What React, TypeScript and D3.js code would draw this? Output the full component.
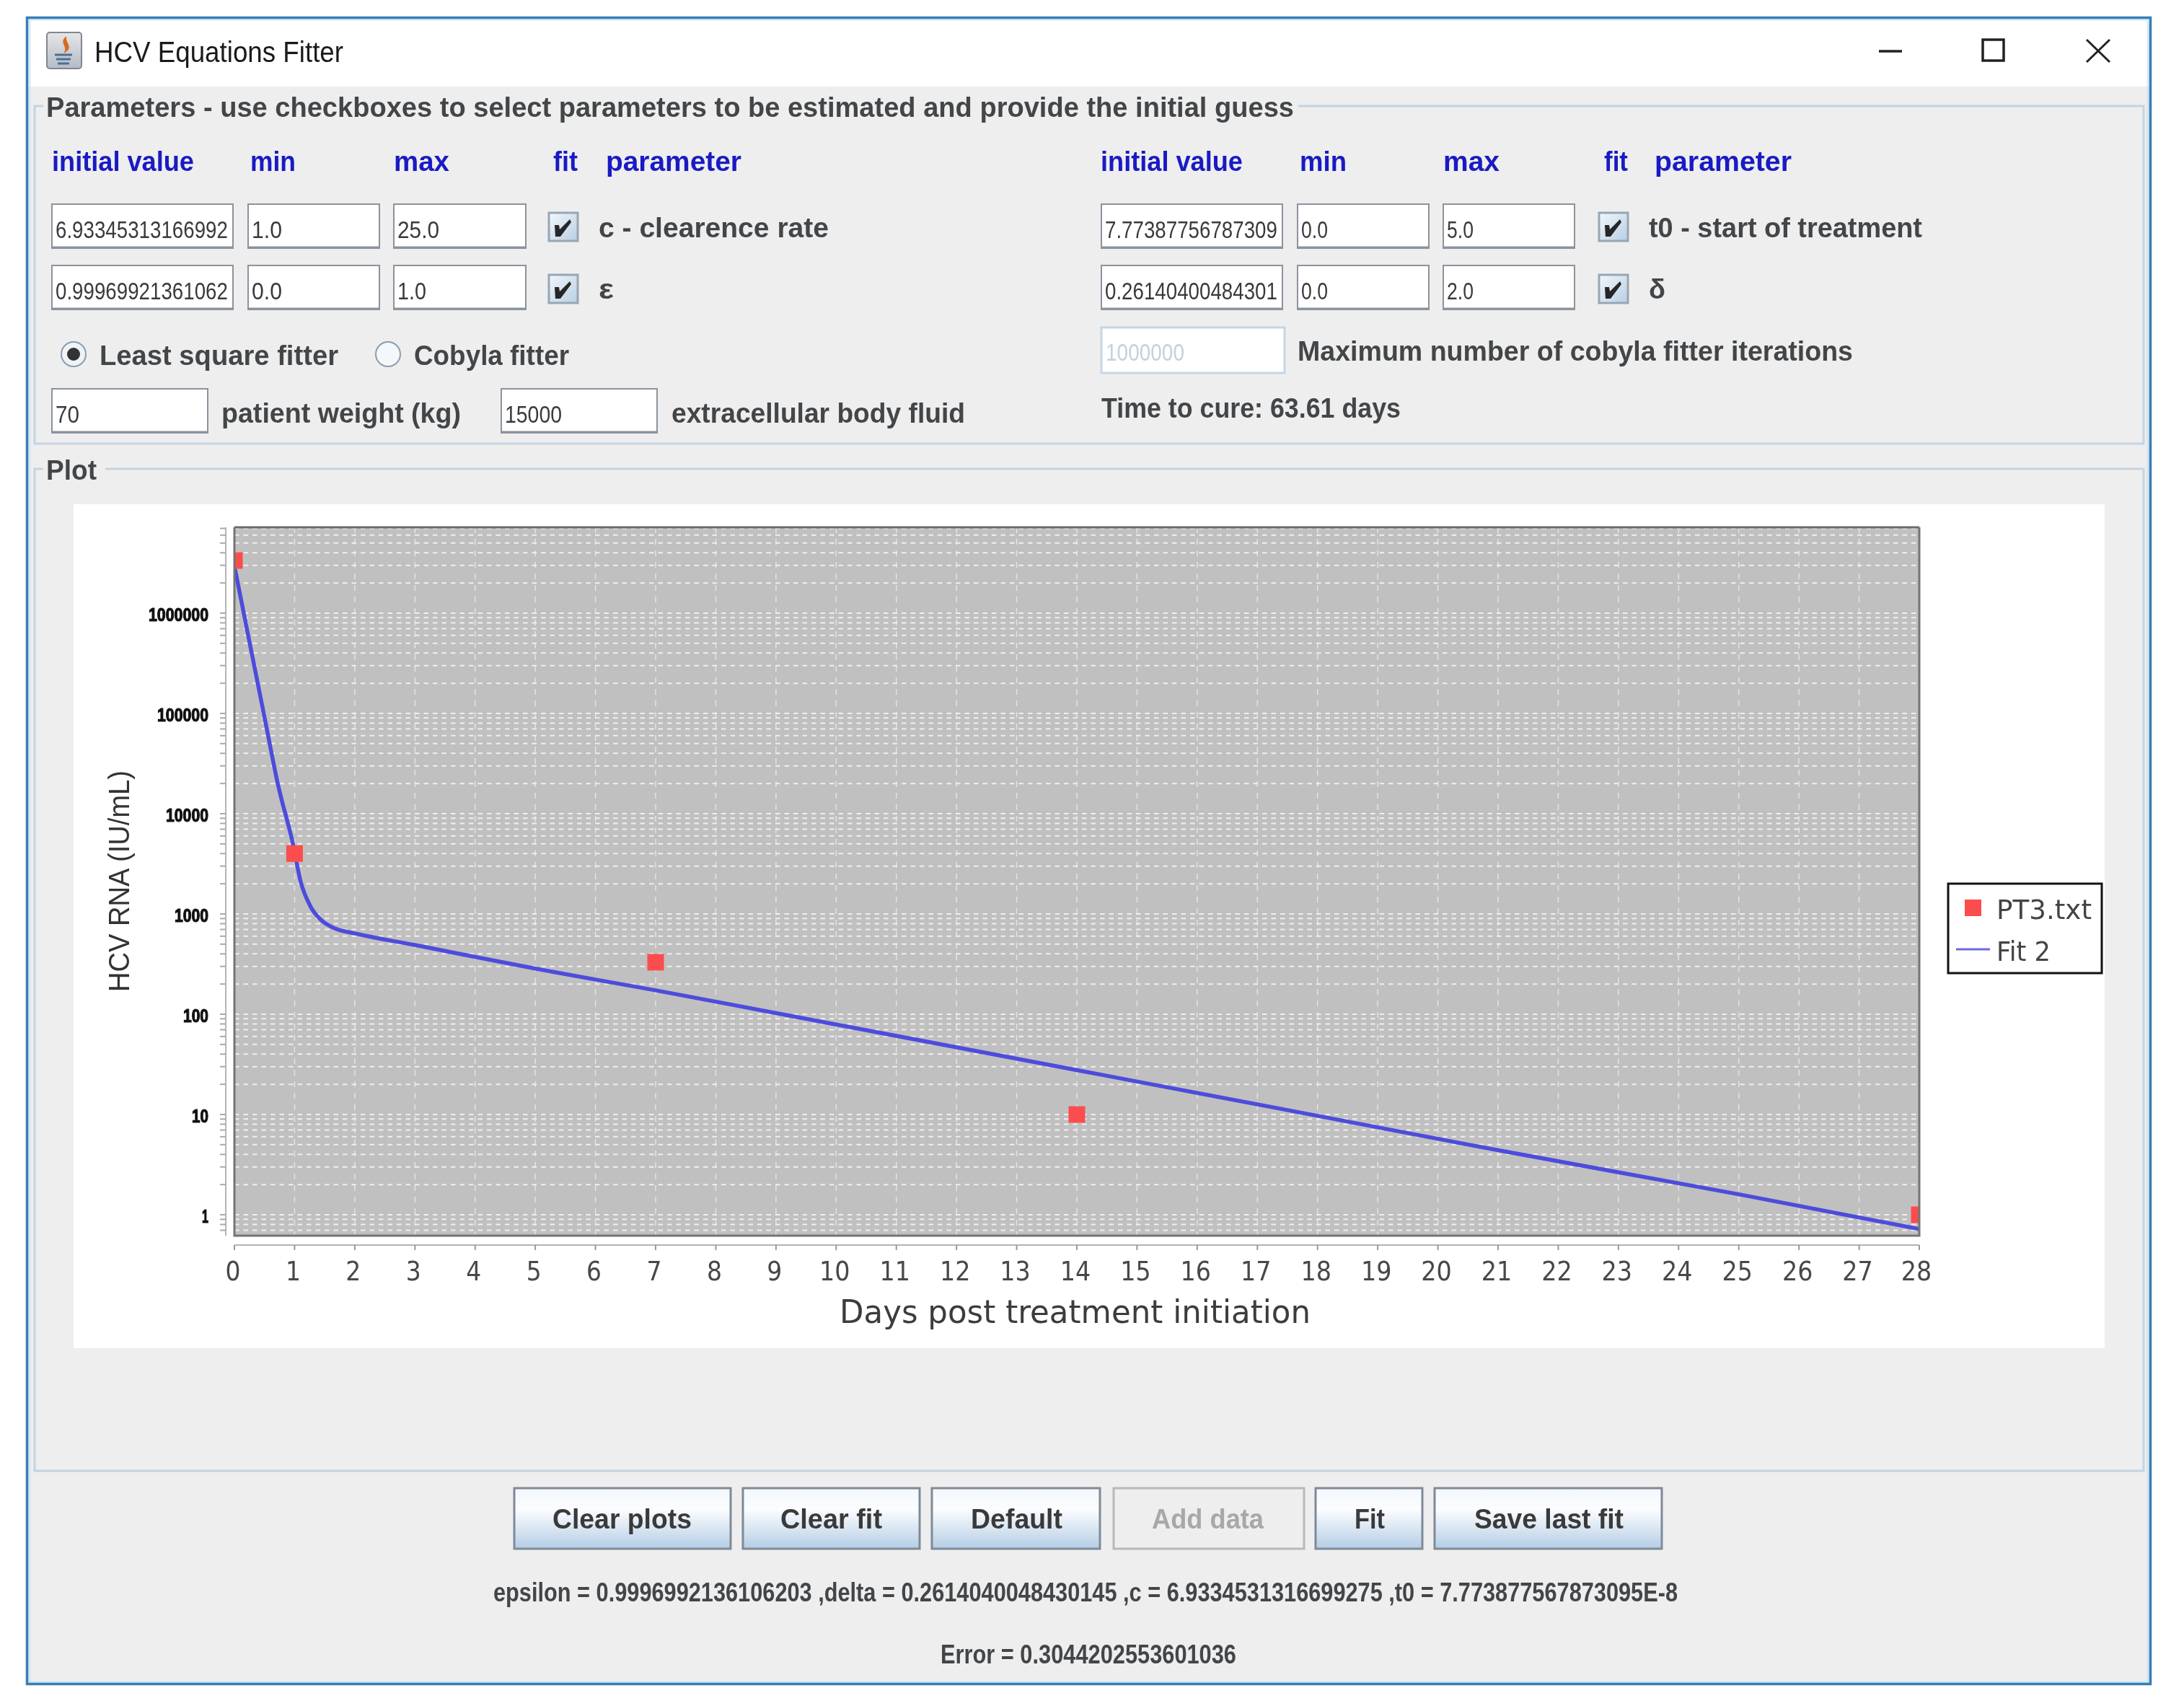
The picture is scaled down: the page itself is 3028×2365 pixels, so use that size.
import React from "react";
import * as d3 from "d3";

// ---- chart data ----
const dataDays = [0, 1, 7, 14, 28];
const dataValues = [3350000, 4000, 330, 10, 1];
const fitDays = [0, 0.25, 0.49, 0.73, 0.97, 1.1, 1.26, 1.45, 1.67, 2, 3, 5, 7, 10, 14, 18, 21, 25, 28];
const fitValues = [2940000, 518000, 98400, 18800, 5070, 2110, 1200, 860, 718, 640, 490, 285, 173, 79, 27.7, 9.7, 4.4, 1.6, 0.72];
const xTicks = d3.range(0, 29);
const yMajor = [1, 10, 100, 1000, 10000, 100000, 1000000];
const yMinorMult = [2, 3, 4, 5, 6, 7, 8, 9];
const legendLabels = ["PT3.txt", "Fit 2"];
const xTitle = "Days post treatment initiation";
const yTitle = "HCV RNA (IU/mL)";
const row1Values = ["6.93345313166992", "1.0", "25.0", "7.77387756787309", "0.0", "5.0"];
const row2Values = ["0.99969921361062", "0.0", "1.0", "0.26140400484301", "0.0", "2.0"];
const headers = ["initial value", "min", "max", "fit", "parameter"];

const SANS = "'Liberation Sans', Arial, sans-serif";
const DEJA = "'DejaVu Sans', sans-serif";
const UI = "#434649";
const BLUE = "#1a1ac4";
const BORDER = "#c3d3e2";

function T({ a, b, y, s = 36, w = 700, c = UI, f = SANS, st, children }: any) {
  return (
    <text x={a} y={y} fontSize={s} fontWeight={w} fill={c} fontFamily={f}
      stroke={st ? c : undefined} strokeWidth={st}
      textLength={b - a} lengthAdjust="spacingAndGlyphs">{children}</text>
  );
}

function Input({ a, b, t, h, text, id, tb, c = "#3a3a3a", stroke = "#8b939d" }: any) {
  return (
    <g>
      <rect x={a} y={t} width={b - a} height={h - t} fill="#fff" stroke={stroke} strokeWidth={2} />
      <line x1={a} x2={b} y1={h - 1} y2={h - 1} stroke={stroke} strokeWidth={3} />
      <clipPath id={id}><rect x={a} y={t} width={b - a} height={h - t} /></clipPath>
      <g clipPath={`url(#${id})`}>
        {text.length > 8 ? (
          <text transform={`translate(${a + 5},${h - 14}) scale(0.84,1)`} fontFamily={SANS} fontSize={33} fill={c}>{text}</text>
        ) : (
          <T a={a + 5} b={tb} y={h - 14} s={33} w={400} c={c}>{text}</T>
        )}
      </g>
    </g>
  );
}

function Check({ x, y }: any) {
  const pts = [[8, 17], [14, 17], [15, 23], [29, 9], [31, 13], [16, 33], [9, 33]]
    .map((p) => `${x + p[0]},${y + p[1]}`).join(" ");
  return (
    <g>
      <rect x={x} y={y} width={40} height={39} fill="url(#chk)" stroke="#98a6b4" strokeWidth={3} />
      <polygon points={pts} fill="#262626" />
    </g>
  );
}

function Btn({ a, b, ta, tb, label, off }: any) {
  return (
    <g>
      <rect x={a} y={2063} width={b - a} height={84} fill={off ? "#eeeeee" : "url(#btn)"}
        stroke={off ? "#b8b8b8" : "#7e8a98"} strokeWidth={3} />
      <T a={ta} b={tb} y={2119} s={39} c={off ? "#a8a8a8" : "#3a3a3a"}>{label}</T>
    </g>
  );
}

export default function App() {
  const L = 325, R = 2661, TOP = 731, BOT = 1713;
  const x = d3.scaleLinear().domain([0, 28]).range([L, R]);
  const y = d3.scaleLog().domain([1, 1000000]).range([1684, 850]);
  const minors: number[] = [];
  [0.1, ...yMajor].forEach((d) => yMinorMult.forEach((m) => {
    const v = d * m;
    if (y(v) > TOP && y(v) < BOT) minors.push(v);
  }));
  const line = d3.line<number>().x((d) => x(d)).y((_, i) => y(fitValues[i])).curve(d3.curveMonotoneX);
  const colR1 = [[72, 323, 323], [344, 526, 391], [546, 729, 609], [1527, 1778, 1778], [1799, 1981, 1841], [2001, 2183, 2043]];
  const colR2 = [[72, 323, 323], [344, 526, 391], [546, 729, 591], [1527, 1778, 1778], [1799, 1981, 1841], [2001, 2183, 2043]];
  const hdrL = [[72, 269], [347, 410], [546, 623], [767, 801], [840, 1028]];
  const hdrR = [[1526, 1723], [1802, 1867], [2001, 2079], [2224, 2257], [2294, 2484]];

  return (
    <svg width={3028} height={2365} viewBox="0 0 3028 2365"
      style={{ position: "absolute", left: 0, top: 0, background: "#fff", filter: "blur(0.7px)" }}>
      <defs>
        <linearGradient id="btn" x1="0" x2="0" y1="0" y2="1">
          <stop offset="0" stopColor="#f4f8fc" /><stop offset="0.35" stopColor="#fbfdff" /><stop offset="1" stopColor="#b5cde4" />
        </linearGradient>
        <linearGradient id="chk" x1="0" x2="1" y1="0" y2="1">
          <stop offset="0" stopColor="#f2f7fb" /><stop offset="1" stopColor="#b8cfe3" />
        </linearGradient>
        <linearGradient id="ico" x1="0" x2="0" y1="0" y2="1">
          <stop offset="0" stopColor="#e6e6e6" /><stop offset="1" stopColor="#b4bcc6" />
        </linearGradient>
        <clipPath id="plot"><rect x={L} y={TOP} width={R - L} height={BOT - TOP} /></clipPath>
      </defs>

      {/* window */}
      <rect x={38} y={25} width={2943} height={2309} fill="#eeeeee" />
      <rect x={38} y={25} width={2943} height={95} fill="#ffffff" />
      <rect x={41} y={27} width={2937} height={2305} fill="none" stroke="#bfe3f3" strokeWidth={3} strokeOpacity={0.7} />
      <rect x={37.5} y={24.5} width={2944} height={2310} fill="none" stroke="#3a7db5" strokeWidth={3.5} />

      {/* title bar */}
      <rect x={65} y={45} width={48} height={50} rx={4} fill="url(#ico)" stroke="#7f8790" strokeWidth={2} />
      <path d="M92 50 C80 60 96 64 88 74 C104 66 90 60 92 50 Z" fill="#d8691e" />
      <path d="M76 76 H100 M78 82 H98 M80 88 H96" stroke="#4c6f96" strokeWidth={3} />
      <T a={131} b={476} y={86} s={40} w={400} c="#1a1a1a">HCV Equations Fitter</T>
      <line x1={2605} x2={2637} y1={71} y2={71} stroke="#222" strokeWidth={3.5} />
      <rect x={2749} y={55} width={29} height={29} fill="none" stroke="#222" strokeWidth={3.5} />
      <path d="M2893 55 L2925 86 M2925 55 L2893 86" stroke="#222" strokeWidth={3} />

      {/* parameters group */}
      <path d="M1800 147 H2972 V615 H48 V147 H60" fill="none" stroke={BORDER} strokeWidth={3} />
      <T a={64} b={1794} y={162} s={38}>Parameters - use checkboxes to select parameters to be estimated and provide the initial guess</T>
      {headers.map((h, i) => (
        <g key={h}>
          <T a={hdrL[i][0]} b={hdrL[i][1]} y={237} s={38} c={BLUE}>{h}</T>
          <T a={hdrR[i][0]} b={hdrR[i][1]} y={237} s={38} c={BLUE}>{h}</T>
        </g>
      ))}
      {row1Values.map((v, i) => (
        <Input key={"a" + i} id={"a" + i} a={colR1[i][0]} b={colR1[i][1]} tb={colR1[i][2]} t={283} h={344} text={v} />
      ))}
      {row2Values.map((v, i) => (
        <Input key={"b" + i} id={"b" + i} a={colR2[i][0]} b={colR2[i][1]} tb={colR2[i][2]} t={368} h={429} text={v} />
      ))}
      <Check x={761} y={295} />
      <Check x={761} y={381} />
      <Check x={2217} y={295} />
      <Check x={2217} y={381} />
      <T a={830} b={1149} y={329} s={38}>c - clearence rate</T>
      <T a={830} b={851} y={414} s={38}>ε</T>
      <T a={2286} b={2665} y={329} s={38}>t0 - start of treatment</T>
      <T a={2286} b={2309} y={414} s={38}>δ</T>

      <circle cx={102} cy={491} r={17} fill="#eef3f8" stroke="#8b9db0" strokeWidth={2} />
      <circle cx={102} cy={491} r={9} fill="#333" />
      <T a={138} b={469} y={506} s={38}>Least square fitter</T>
      <circle cx={538} cy={491} r={17} fill="#f4f8fb" stroke="#8b9db0" strokeWidth={2} />
      <T a={574} b={789} y={506} s={38}>Cobyla fitter</T>

      <Input id="w" a={72} b={288} t={539} h={600} tb={110} text="70" />
      <T a={307} b={639} y={586} s={38}>patient weight (kg)</T>
      <Input id="v" a={695} b={911} t={539} h={600} tb={779} text="15000" />
      <T a={931} b={1338} y={586} s={38}>extracellular body fluid</T>

      <rect x={1527} y={454} width={254} height={63} fill="#fff" stroke="#c6d5e4" strokeWidth={3} />
      <T a={1533} b={1642} y={500} s={33} w={400} c="#c4d0de">1000000</T>
      <T a={1799} b={2569} y={500} s={38}>Maximum number of cobyla fitter iterations</T>
      <T a={1527} b={1942} y={579} s={38}>Time to cure: 63.61 days</T>

      {/* plot group */}
      <path d="M146 650 H2972 V2039 H48 V650 H60" fill="none" stroke={BORDER} strokeWidth={3} />
      <T a={64} b={134} y={665} s={38}>Plot</T>
      <rect x={102} y={699} width={2816} height={1170} fill="#ffffff" />

      {/* plot area */}
      <rect x={L} y={TOP} width={R - L} height={BOT - TOP} fill="#c0c0c0" />
      <g clipPath="url(#plot)" fill="none">
        <g stroke="#e4e4e4" strokeWidth={1.5} strokeDasharray="8 8">
          {xTicks.map((d) => <line key={d} x1={x(d)} x2={x(d)} y1={TOP} y2={BOT} />)}
        </g>
        <g stroke="#efefef" strokeWidth={2} strokeDasharray="6.5 6">
          {yMajor.map((d) => <line key={d} x1={L} x2={R} y1={y(d)} y2={y(d)} />)}
          {minors.map((d) => <line key={d} x1={L} x2={R} y1={y(d)} y2={y(d)} />)}
        </g>
      </g>
      <g clipPath="url(#plot)">
        <path d={line(fitDays) as string} fill="none" stroke="#4c4cdc" strokeWidth={5.5} />
        {dataDays.map((d, i) => (
          <rect key={d} x={x(d) - 11.5} y={y(dataValues[i]) - 11.5} width={23} height={23} fill="#fb4d4d" />
        ))}
      </g>
      <path d={`M${L} ${TOP} H${R}`} stroke="#6a6a6a" strokeWidth={3} fill="none" />
      <path d={`M${L} ${TOP} V${BOT} H${R} V${TOP}`} stroke="#747474" strokeWidth={3} fill="none" />

      {/* y axis */}
      <line x1={313} x2={313} y1={TOP} y2={BOT} stroke="#b4b4b4" strokeWidth={2} />
      {[...yMajor, ...minors].map((d) => <line key={d} x1={305} x2={313} y1={y(d)} y2={y(d)} stroke="#aaa" strokeWidth={2} />)}
      {yMajor.map((d) => {
        const s = String(d);
        const w = s.length === 1 ? 9 : 12 * s.length - 1;
        return <T key={d} a={289 - w} b={289} y={y(d) + 11} s={26} c="#111" st={1.2}>{s}</T>;
      })}
      <text transform="translate(179,1375) rotate(-90)" fontFamily={SANS} fontSize={41} fill="#333"
        textLength={307} lengthAdjust="spacingAndGlyphs">{yTitle}</text>

      {/* x axis */}
      <line x1={L} x2={R} y1={1726} y2={1726} stroke="#b4b4b4" strokeWidth={2} />
      {xTicks.map((d) => {
        const w = d < 10 ? 21 : 42.5;
        return (
          <g key={d}>
            <line x1={x(d)} x2={x(d)} y1={1726} y2={1733} stroke="#999" strokeWidth={2} />
            <T a={x(d) - 2 - w / 2 - (d === 28 ? 2 : 0)} b={x(d) - 2 + w / 2 - (d === 28 ? 2 : 0)} y={1775} s={38} w={400} c="#484848" f={DEJA}>{d}</T>
          </g>
        );
      })}
      <T a={1164} b={1817} y={1834} s={44} w={400} c="#3c3c3c" f={DEJA}>{xTitle}</T>

      {/* legend */}
      <rect x={2701} y={1225} width={213} height={124} fill="#fff" stroke="#111" strokeWidth={3} />
      <rect x={2724} y={1247} width={23} height={23} fill="#fb4d4d" />
      <line x1={2712} x2={2759} y1={1316} y2={1316} stroke="#6a6ae6" strokeWidth={3} />
      <T a={2768} b={2900} y={1274} s={37} w={400} c="#444" f={DEJA}>{legendLabels[0]}</T>
      <T a={2768} b={2843} y={1332} s={37} w={400} c="#444" f={DEJA}>{legendLabels[1]}</T>

      {/* buttons */}
      <Btn a={713} b={1013} ta={766} tb={959} label="Clear plots" />
      <Btn a={1030} b={1275} ta={1082} tb={1223} label="Clear fit" />
      <Btn a={1292} b={1525} ta={1346} tb={1473} label="Default" />
      <Btn a={1544} b={1808} ta={1597} tb={1752} label="Add data" off />
      <Btn a={1824} b={1972} ta={1878} tb={1920} label="Fit" />
      <Btn a={1989} b={2304} ta={2044} tb={2251} label="Save last fit" />

      <T a={684} b={2326} y={2220} s={36}>epsilon = 0.9996992136106203 ,delta = 0.2614040048430145 ,c = 6.9334531316699275 ,t0 = 7.773877567873095E-8</T>
      <T a={1304} b={1714} y={2306} s={36}>Error = 0.3044202553601036</T>
    </svg>
  );
}
